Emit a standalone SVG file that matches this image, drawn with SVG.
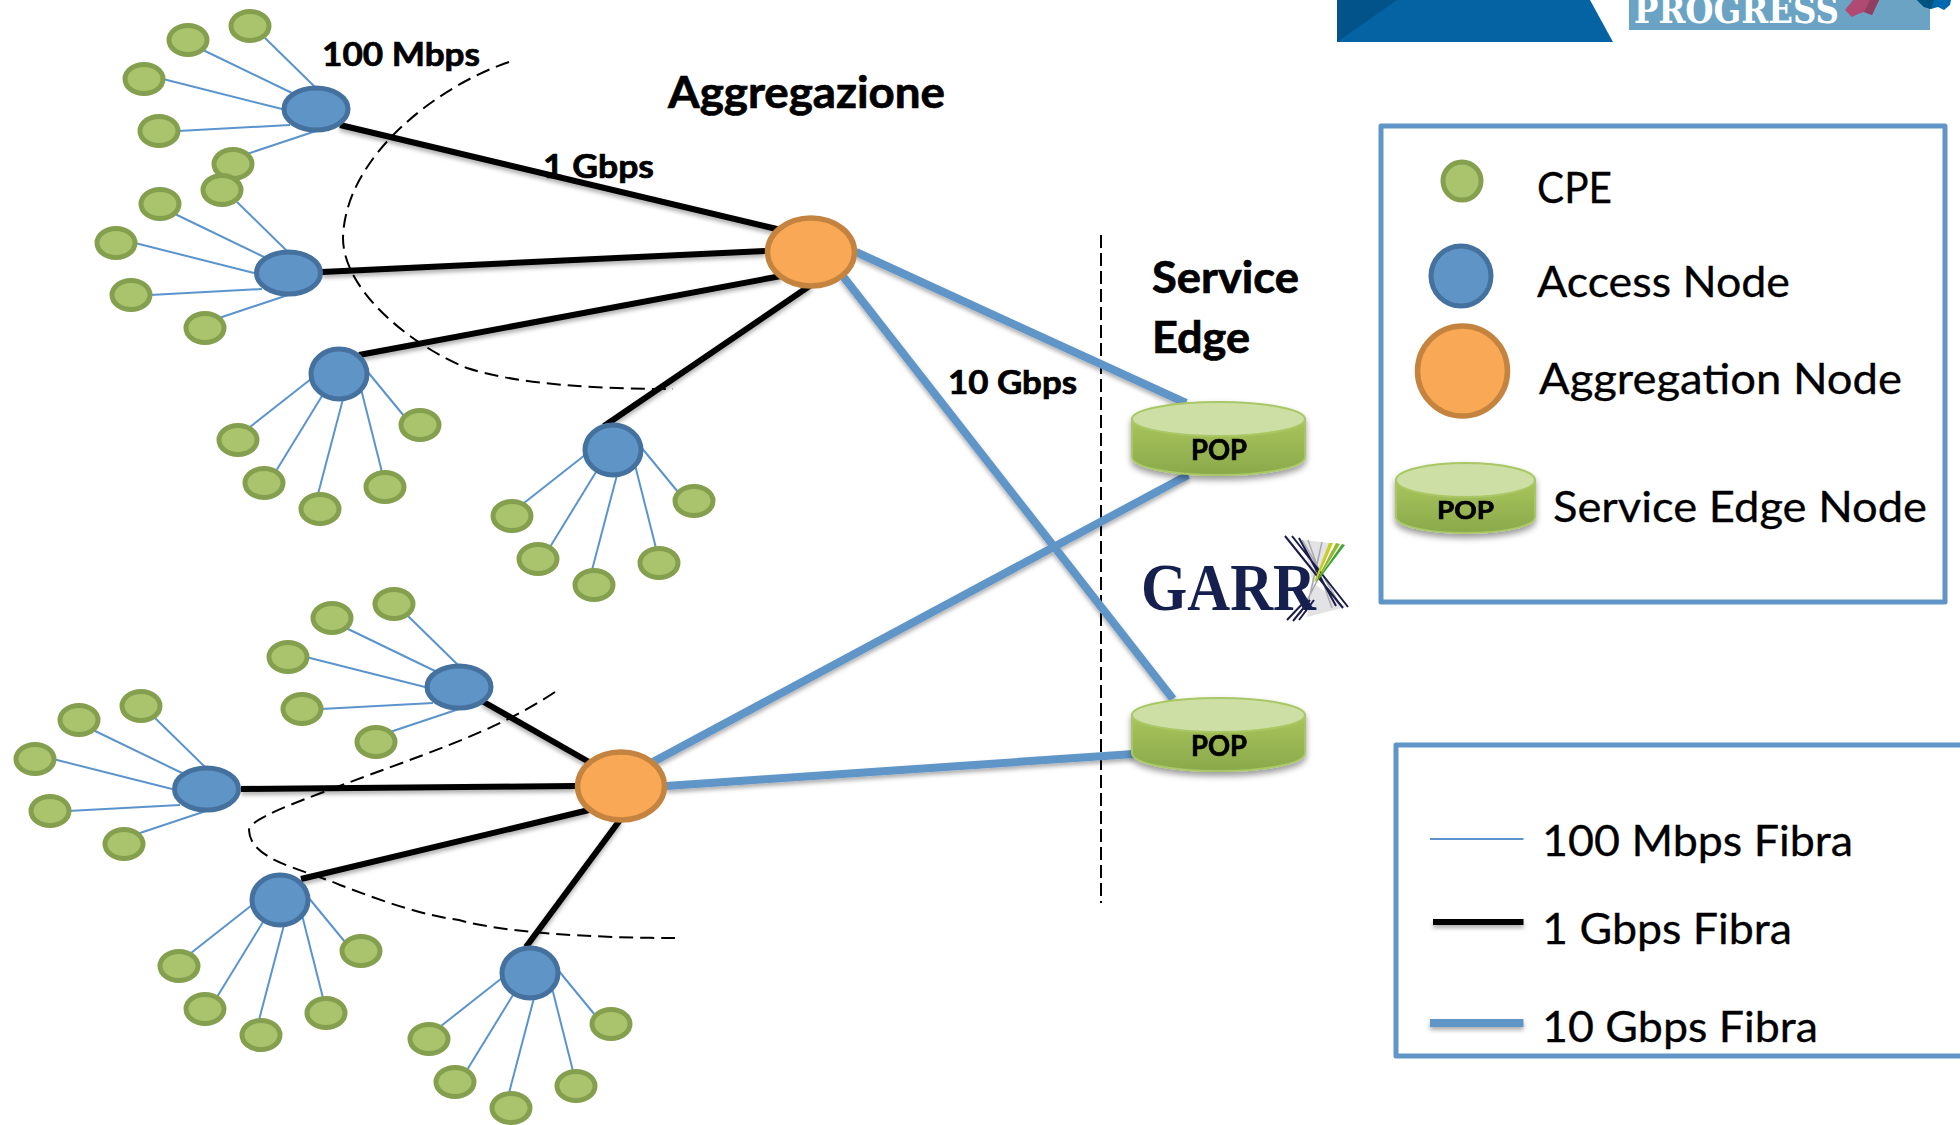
<svg xmlns="http://www.w3.org/2000/svg" width="1960" height="1125" viewBox="0 0 1960 1125">
<style>
text{font-family:"Lato","Carlito","Liberation Sans",sans-serif;fill:#000}
.b{font-weight:700;stroke:#000;stroke-width:.7}
.r{stroke:#000;stroke-width:.3}
.cpe{fill:#a9c46c;stroke:#84a04f;stroke-width:5}
.acc{fill:#5f94c7;stroke:#45719f;stroke-width:5}
.agg{fill:#f9a855;stroke:#c4833f;stroke-width:5.5}
.s{stroke:#5b94cc;stroke-width:2;fill:none}
.k{stroke:#000;stroke-width:6;fill:none}
.t{stroke:#6095c8;stroke-width:8;fill:none}
.d{stroke:#000;stroke-width:2;fill:none;stroke-dasharray:14 7}
.box{fill:none;stroke:#6095c8;stroke-width:5;stroke-linejoin:round}
.top{fill:#cddfa5;stroke:#a9c865;stroke-width:2}
.body{fill:url(#popg);stroke:#a9c865;stroke-width:2}
.ln{stroke:#1c1c4a;stroke-width:2;fill:none}
.gl{stroke:#a8a8b0;stroke-width:1.5;fill:none}
</style>
<defs>
<linearGradient id="popg" x1="0" y1="0" x2="0" y2="1"><stop offset="0" stop-color="#a9c55c"/><stop offset="1" stop-color="#8aa94a"/></linearGradient>
<filter id="sh" filterUnits="userSpaceOnUse" x="0" y="0" width="1960" height="1125"><feDropShadow dx="0" dy="3" stdDeviation="2.2" flood-color="#000" flood-opacity="0.32"/></filter>
<filter id="sh2" x="-10%" y="-10%" width="120%" height="130%"><feDropShadow dx="0" dy="4" stdDeviation="3" flood-color="#000" flood-opacity="0.4"/></filter>
</defs>
<rect width="1960" height="1125" fill="#fff"/>

<g id="logo-top">
<polygon points="1337,0 1590,0 1613,42 1337,42" fill="#0563a3"/>
<polygon points="1337,42 1337,0 1397,0" fill="#01538a"/>
<rect x="1629" y="0" width="301" height="30" fill="#6ba3c4"/>
<text x="1634" y="23" font-size="38" font-weight="700" textLength="205" lengthAdjust="spacingAndGlyphs" style="font-family:'DejaVu Serif','Liberation Serif',serif;fill:#fff">PROGRESS</text>
<polygon points="1845,10 1853,0 1879,0 1872,15 1864,12 1858,14 1852,17" fill="#b04a72"/>
<polygon points="1864,12 1870,0 1879,0 1872,15" fill="#8e3f62"/>
<polygon points="1917,0 1951,0 1950,5 1944,10 1938,7 1931,9 1924,7" fill="#0069ad"/>
<polygon points="1917,0 1934,0 1931,9 1924,7" fill="#00527f"/>
</g>

<g id="dividers">
<path class="d" d="M509,62 C440,85 345,155 343,238 C343,290 410,345 467,368 C520,385 600,389 673,389"/>
<path class="d" d="M555,692 C490,735 420,755 321,793 C270,812 250,822 249,830 C250,860 300,868 340,885 C380,900 420,915 459,920 C500,932 590,938 675,938"/>
<line class="d" x1="1101" y1="235" x2="1101" y2="903" style="stroke-dasharray:13 5"/>
</g>

<g id="connectors">
<g id="spokes">
<line class="s" x1="265" y1="38" x2="315" y2="87"/><line class="s" x1="203" y1="50" x2="292" y2="93"/><line class="s" x1="163" y1="79" x2="282" y2="109"/><line class="s" x1="178" y1="131" x2="290" y2="125"/><line class="s" x1="247" y1="154" x2="316" y2="131"/>
<line class="s" x1="237" y1="202" x2="287" y2="251"/><line class="s" x1="175" y1="214" x2="264" y2="257"/><line class="s" x1="135" y1="243" x2="254" y2="273"/><line class="s" x1="150" y1="295" x2="262" y2="289"/><line class="s" x1="219" y1="318" x2="288" y2="295"/>
<line class="s" x1="408" y1="616" x2="458" y2="665"/><line class="s" x1="346" y1="628" x2="435" y2="671"/><line class="s" x1="306" y1="657" x2="425" y2="687"/><line class="s" x1="321" y1="709" x2="433" y2="703"/><line class="s" x1="390" y1="732" x2="459" y2="709"/>
<line class="s" x1="155" y1="718" x2="205" y2="767"/><line class="s" x1="93" y1="730" x2="182" y2="773"/><line class="s" x1="53" y1="759" x2="172" y2="789"/><line class="s" x1="68" y1="811" x2="180" y2="805"/><line class="s" x1="137" y1="834" x2="206" y2="811"/>
<line class="s" x1="250" y1="427" x2="311" y2="379"/><line class="s" x1="276" y1="471" x2="322" y2="396"/><line class="s" x1="318" y1="494" x2="343" y2="399"/><line class="s" x1="382" y1="472" x2="361" y2="389"/><line class="s" x1="404" y1="416" x2="367" y2="371"/>
<line class="s" x1="524" y1="503" x2="585" y2="455"/><line class="s" x1="550" y1="547" x2="596" y2="472"/><line class="s" x1="592" y1="570" x2="617" y2="475"/><line class="s" x1="656" y1="548" x2="635" y2="465"/><line class="s" x1="678" y1="492" x2="641" y2="447"/>
<line class="s" x1="191" y1="953" x2="252" y2="905"/><line class="s" x1="217" y1="997" x2="263" y2="922"/><line class="s" x1="259" y1="1020" x2="284" y2="925"/><line class="s" x1="323" y1="998" x2="302" y2="915"/><line class="s" x1="345" y1="942" x2="308" y2="897"/>
<line class="s" x1="441" y1="1026" x2="502" y2="978"/><line class="s" x1="467" y1="1070" x2="513" y2="995"/><line class="s" x1="509" y1="1093" x2="534" y2="998"/><line class="s" x1="573" y1="1071" x2="552" y2="988"/><line class="s" x1="595" y1="1015" x2="558" y2="970"/>
</g>
<g id="links-1g" filter="url(#sh)">
<line class="k" x1="340" y1="125" x2="781" y2="230"/>
<line class="k" x1="322" y1="272" x2="765" y2="251"/>
<line class="k" x1="359" y1="355" x2="781" y2="276"/>
<line class="k" x1="604" y1="426" x2="811" y2="285"/>
<line class="k" x1="482" y1="701" x2="589" y2="762"/>
<line class="k" x1="241" y1="789" x2="576" y2="786"/>
<line class="k" x1="301" y1="879" x2="589" y2="810"/>
<line class="k" x1="526" y1="947" x2="620" y2="820"/>
</g>
<g id="links-10g" filter="url(#sh)">
<line class="t" x1="856" y1="252" x2="1186" y2="403"/>
<line class="t" x1="842" y1="275" x2="1173" y2="699"/>
<line class="t" x1="651" y1="763" x2="1188" y2="475"/>
<line class="t" x1="666" y1="786" x2="1134" y2="754"/>
</g>
</g>

<g id="cpe-a1"><ellipse class="cpe" cx="250" cy="26" rx="19" ry="14.5"/><ellipse class="cpe" cx="188" cy="40" rx="19" ry="14.5"/><ellipse class="cpe" cx="144" cy="79" rx="19" ry="14.5"/><ellipse class="cpe" cx="159" cy="131" rx="19" ry="14.5"/><ellipse class="cpe" cx="233" cy="164" rx="19" ry="14.5"/></g>
<g id="cpe-a2"><ellipse class="cpe" cx="222" cy="190" rx="19" ry="14.5"/><ellipse class="cpe" cx="160" cy="204" rx="19" ry="14.5"/><ellipse class="cpe" cx="116" cy="243" rx="19" ry="14.5"/><ellipse class="cpe" cx="131" cy="295" rx="19" ry="14.5"/><ellipse class="cpe" cx="205" cy="328" rx="19" ry="14.5"/></g>
<g id="cpe-a3"><ellipse class="cpe" cx="238" cy="440" rx="19" ry="14.5"/><ellipse class="cpe" cx="264" cy="483" rx="19" ry="14.5"/><ellipse class="cpe" cx="320" cy="509" rx="19" ry="14.5"/><ellipse class="cpe" cx="385" cy="487" rx="19" ry="14.5"/><ellipse class="cpe" cx="420" cy="425" rx="19" ry="14.5"/></g>
<g id="cpe-a4"><ellipse class="cpe" cx="512" cy="516" rx="19" ry="14.5"/><ellipse class="cpe" cx="538" cy="559" rx="19" ry="14.5"/><ellipse class="cpe" cx="594" cy="585" rx="19" ry="14.5"/><ellipse class="cpe" cx="659" cy="563" rx="19" ry="14.5"/><ellipse class="cpe" cx="694" cy="501" rx="19" ry="14.5"/></g>
<g id="cpe-a5"><ellipse class="cpe" cx="394" cy="604" rx="19" ry="14.5"/><ellipse class="cpe" cx="332" cy="618" rx="19" ry="14.5"/><ellipse class="cpe" cx="288" cy="657" rx="19" ry="14.5"/><ellipse class="cpe" cx="302" cy="709" rx="19" ry="14.5"/><ellipse class="cpe" cx="376" cy="742" rx="19" ry="14.5"/></g>
<g id="cpe-a6"><ellipse class="cpe" cx="141" cy="706" rx="19" ry="14.5"/><ellipse class="cpe" cx="79" cy="720" rx="19" ry="14.5"/><ellipse class="cpe" cx="35" cy="759" rx="19" ry="14.5"/><ellipse class="cpe" cx="50" cy="811" rx="19" ry="14.5"/><ellipse class="cpe" cx="124" cy="844" rx="19" ry="14.5"/></g>
<g id="cpe-a7"><ellipse class="cpe" cx="179" cy="966" rx="19" ry="14.5"/><ellipse class="cpe" cx="205" cy="1009" rx="19" ry="14.5"/><ellipse class="cpe" cx="261" cy="1035" rx="19" ry="14.5"/><ellipse class="cpe" cx="326" cy="1013" rx="19" ry="14.5"/><ellipse class="cpe" cx="361" cy="951" rx="19" ry="14.5"/></g>
<g id="cpe-a8"><ellipse class="cpe" cx="429" cy="1039" rx="19" ry="14.5"/><ellipse class="cpe" cx="455" cy="1082" rx="19" ry="14.5"/><ellipse class="cpe" cx="511" cy="1108" rx="19" ry="14.5"/><ellipse class="cpe" cx="576" cy="1086" rx="19" ry="14.5"/><ellipse class="cpe" cx="611" cy="1024" rx="19" ry="14.5"/></g>

<g id="access-1"><ellipse class="acc" cx="316" cy="109" rx="32" ry="21"/></g>
<g id="access-2"><ellipse class="acc" cx="288.500" cy="273" rx="32" ry="21"/></g>
<g id="access-3"><ellipse class="acc" cx="339" cy="374" rx="28" ry="25"/></g>
<g id="access-4"><ellipse class="acc" cx="613" cy="450" rx="28" ry="25"/></g>
<g id="access-5"><ellipse class="acc" cx="459" cy="687" rx="32" ry="21"/></g>
<g id="access-6"><ellipse class="acc" cx="206.500" cy="789" rx="32" ry="21"/></g>
<g id="access-7"><ellipse class="acc" cx="280" cy="900" rx="28" ry="25"/></g>
<g id="access-8"><ellipse class="acc" cx="530" cy="973" rx="28" ry="25"/></g>

<g id="aggregation-1"><ellipse class="agg" cx="811" cy="252" rx="43.5" ry="34"/></g>
<g id="aggregation-2"><ellipse class="agg" cx="621" cy="786" rx="43.5" ry="34"/></g>

<g id="pop-1" filter="url(#sh2)">
<path class="body" d="M1132,419 V457 C1132,467 1170,475 1219,475 C1268,475 1305,467 1305,457 V419 Z"/>
<ellipse class="top" cx="1218.5" cy="419" rx="86.5" ry="17"/>
<text class="b" x="1191" y="460" font-size="28" textLength="56" lengthAdjust="spacingAndGlyphs">POP</text>
</g>
<g id="pop-2" filter="url(#sh2)">
<path class="body" d="M1132,715 V753 C1132,763 1170,771 1219,771 C1268,771 1305,763 1305,753 V715 Z"/>
<ellipse class="top" cx="1218.5" cy="715" rx="86.5" ry="17"/>
<text class="b" x="1191" y="756" font-size="28" textLength="56" lengthAdjust="spacingAndGlyphs">POP</text>
</g>

<g id="logo-garr">
<polygon points="1303,540 1330,543 1313,583 1346,607 1307,617 1313,583" fill="#e3e3e6"/>
<path class="gl" d="M1302,540 L1340,605 M1308,540 L1332,608 M1322,542 L1306,612 M1333,550 L1300,614"/>
<path class="ln" d="M1285,536 L1343,608 M1292,536 L1348,607 M1299,538 L1336,606 M1287,620 L1306,600 M1293,621 L1310,600 M1299,620 L1314,600"/>
<polygon points="1329,543 1333,543 1317,580 1314,582" fill="#c4cf1d"/>
<polygon points="1336,543 1340,544 1319,578 1316,582" fill="#96b92a"/>
<polygon points="1342,544 1345,545 1320,578 1315,583" fill="#3fa535"/>
<text x="1141" y="610" font-size="68" textLength="175" lengthAdjust="spacingAndGlyphs" style="font-family:'Liberation Serif',serif;fill:#16204e;font-weight:700">GARR</text>
</g>

<g id="labels">
<text class="b" x="322" y="66" font-size="33" textLength="158" lengthAdjust="spacingAndGlyphs">100 Mbps</text>
<text class="b" x="543" y="178" font-size="33" textLength="111" lengthAdjust="spacingAndGlyphs">1 Gbps</text>
<text class="b" x="668" y="108" font-size="43" textLength="277" lengthAdjust="spacingAndGlyphs">Aggregazione</text>
<text class="b" x="1152" y="293" font-size="43" textLength="147" lengthAdjust="spacingAndGlyphs">Service</text>
<text class="b" x="1152" y="353" font-size="43" textLength="98" lengthAdjust="spacingAndGlyphs">Edge</text>
<text class="b" x="948" y="394" font-size="32" textLength="129" lengthAdjust="spacingAndGlyphs">10 Gbps</text>
</g>

<g id="legend-nodes">
<rect class="box" x="1381" y="126" width="564" height="476"/>
<circle class="cpe" cx="1462" cy="181" r="19"/>
<circle class="acc" cx="1461" cy="276" r="30"/>
<circle class="agg" cx="1462.5" cy="371" r="45"/>
<g filter="url(#sh2)">
<path class="body" d="M1396,480 V517 C1396,526 1428,533 1466,533 C1504,533 1535,526 1535,517 V480 Z"/>
<ellipse class="top" cx="1465.5" cy="480" rx="69.5" ry="17"/>
<text class="b" x="1437" y="519" font-size="25" textLength="57" lengthAdjust="spacingAndGlyphs">POP</text>
</g>
<text class="r" x="1537" y="203" font-size="42" textLength="75" lengthAdjust="spacingAndGlyphs">CPE</text>
<text class="r" x="1537" y="297" font-size="42" textLength="253" lengthAdjust="spacingAndGlyphs">Access Node</text>
<text class="r" x="1539" y="394" font-size="42" textLength="363" lengthAdjust="spacingAndGlyphs">Aggregation Node</text>
<text class="r" x="1553" y="522" font-size="42" textLength="374" lengthAdjust="spacingAndGlyphs">Service Edge Node</text>
</g>

<g id="legend-links">
<rect class="box" x="1396" y="745" width="600" height="311"/>
<line x1="1430" y1="839" x2="1523.5" y2="839" class="s"/>
<line x1="1433" y1="922" x2="1523.5" y2="922" class="k" filter="url(#sh)"/>
<line x1="1430" y1="1023" x2="1523.5" y2="1023" class="t" filter="url(#sh)"/>
<text class="r" x="1542" y="856" font-size="42" textLength="311" lengthAdjust="spacingAndGlyphs">100 Mbps Fibra</text>
<text class="r" x="1542" y="944" font-size="42" textLength="250" lengthAdjust="spacingAndGlyphs">1 Gbps Fibra</text>
<text class="r" x="1542" y="1042" font-size="42" textLength="276" lengthAdjust="spacingAndGlyphs">10 Gbps Fibra</text>
</g>
</svg>
